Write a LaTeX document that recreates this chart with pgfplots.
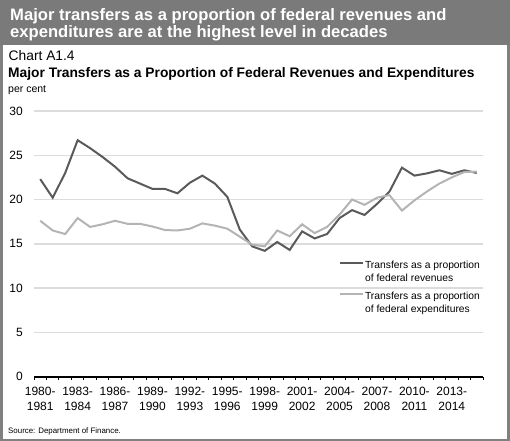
\documentclass[border=0pt]{standalone}
\usepackage{fontspec}
\setmainfont{Liberation Sans}
\usepackage{pgfplots}
\usepackage{pgfplotstable}
\pgfplotsset{compat=1.18}
\definecolor{banner}{RGB}{122,122,122}
\definecolor{framec}{RGB}{128,128,128}
\definecolor{revc}{RGB}{90,90,90}
\definecolor{expc}{RGB}{180,180,180}
\definecolor{gridc}{RGB}{220,220,220}
\pgfplotstableread{
x rev exp
0 22.3 17.6
1 20.2 16.5
2 23.0 16.1
3 26.7 17.9
4 25.8 16.9
5 24.8 17.2
6 23.7 17.6
7 22.4 17.25
8 21.8 17.25
9 21.2 16.95
10 21.2 16.55
11 20.7 16.5
12 21.9 16.7
13 22.7 17.3
14 21.8 17.05
15 20.3 16.7
16 16.6 15.8
17 14.7 14.9
18 14.2 14.7
19 15.2 16.5
20 14.3 15.85
21 16.4 17.2
22 15.6 16.2
23 16.1 16.9
24 17.9 18.3
25 18.8 20.0
26 18.25 19.4
27 19.5 20.2
28 20.9 20.5
29 23.6 18.75
30 22.7 19.9
31 22.95 20.9
32 23.3 21.8
33 22.9 22.5
34 23.3 23.1
35 23.0 23.15
}\datatable
\begin{document}
\begin{tikzpicture}
\path[use as bounding box] (0,0) rectangle (510bp,-441bp);
\fill[banner] (0,0) rectangle (510bp,-45bp);
\draw[framec, line width=2.5bp] (1.25bp,-45bp) -- (1.25bp,-439.75bp) -- (508.25bp,-439.75bp) -- (508.25bp,-45bp);
\node[anchor=base west, inner sep=0pt, text=white, font=\fontsize{16.6bp}{17bp}\selectfont\bfseries] at (10bp,-20.7bp) {Major transfers as a proportion of federal revenues and};
\node[anchor=base west, inner sep=0pt, text=white, font=\fontsize{16.6bp}{17bp}\selectfont\bfseries] at (10bp,-37.3bp) {expenditures are at the highest level in decades};
\node[anchor=base west, inner sep=0pt, font=\fontsize{13.8bp}{15bp}\selectfont] at (8.5bp,-60.7bp) {Chart A1.4};
\node[anchor=base west, inner sep=0pt, font=\fontsize{13.8bp}{15bp}\selectfont\bfseries] at (8bp,-77.3bp) {Major Transfers as a Proportion of Federal Revenues and Expenditures};
\node[anchor=base west, inner sep=0pt, font=\fontsize{10.5bp}{12bp}\selectfont] at (8bp,-92.5bp) {per cent};
\node[anchor=base west, inner sep=0pt, font=\fontsize{7.9bp}{10bp}\selectfont] at (8bp,-433bp) {Source: Department of Finance.};
\begin{axis}[
  at={(34bp,-376.5bp)}, anchor=south west,
  scale only axis, width=449bp, height=265.5bp,
  xmin=-0.5, xmax=35.5, ymin=0, ymax=30,
  axis lines*=left,
  y axis line style={draw=none},
  x axis line style={black, line width=2bp},
  ytick={0,5,...,30},
  ymajorgrids,
  major grid style={gridc, line width=1.5bp},
  ytick style={draw=none},
  major tick length=0pt,
  minor tick length=3bp,
  tick align=outside,
  minor xtick={-0.5,0.5,...,35.5},
  minor tick style={black, line width=1bp},
  xtick={0,3,...,33},
  xticklabels={{1980-\\1981},{1983-\\1984},{1986-\\1987},{1989-\\1990},{1992-\\1993},{1995-\\1996},{1998-\\1999},{2001-\\2002},{2004-\\2005},{2007-\\2008},{2010-\\2011},{2013-\\2014}},
  xticklabel style={align=center, inner sep=0pt, yshift=-10bp, font=\fontsize{12bp}{15bp}\selectfont},
  yticklabel style={anchor=east, inner sep=0pt, xshift=-11bp, font=\fontsize{12bp}{14bp}\selectfont},
  /pgf/number format/assume math mode=true,
  legend style={at={(0.679,0.445)}, anchor=north west, draw=none, fill=none,
    font=\fontsize{10.3bp}{13bp}\selectfont, row sep=5bp, inner sep=0pt,
    nodes={inner sep=1bp}},
  legend cell align=left,
  legend image code/.code={\draw[#1] (0bp,8bp) -- (23bp,8bp);},
]
\addplot[revc, line width=2bp] table[x=x, y=rev] {\datatable};
\addlegendentry{\begin{tabular}[b]{@{}l@{}}Transfers as a proportion\\of federal revenues\end{tabular}}
\addplot[expc, line width=2bp] table[x=x, y=exp] {\datatable};
\addlegendentry{\begin{tabular}[b]{@{}l@{}}Transfers as a proportion\\of federal expenditures\end{tabular}}
\end{axis}
\end{tikzpicture}
\end{document}
